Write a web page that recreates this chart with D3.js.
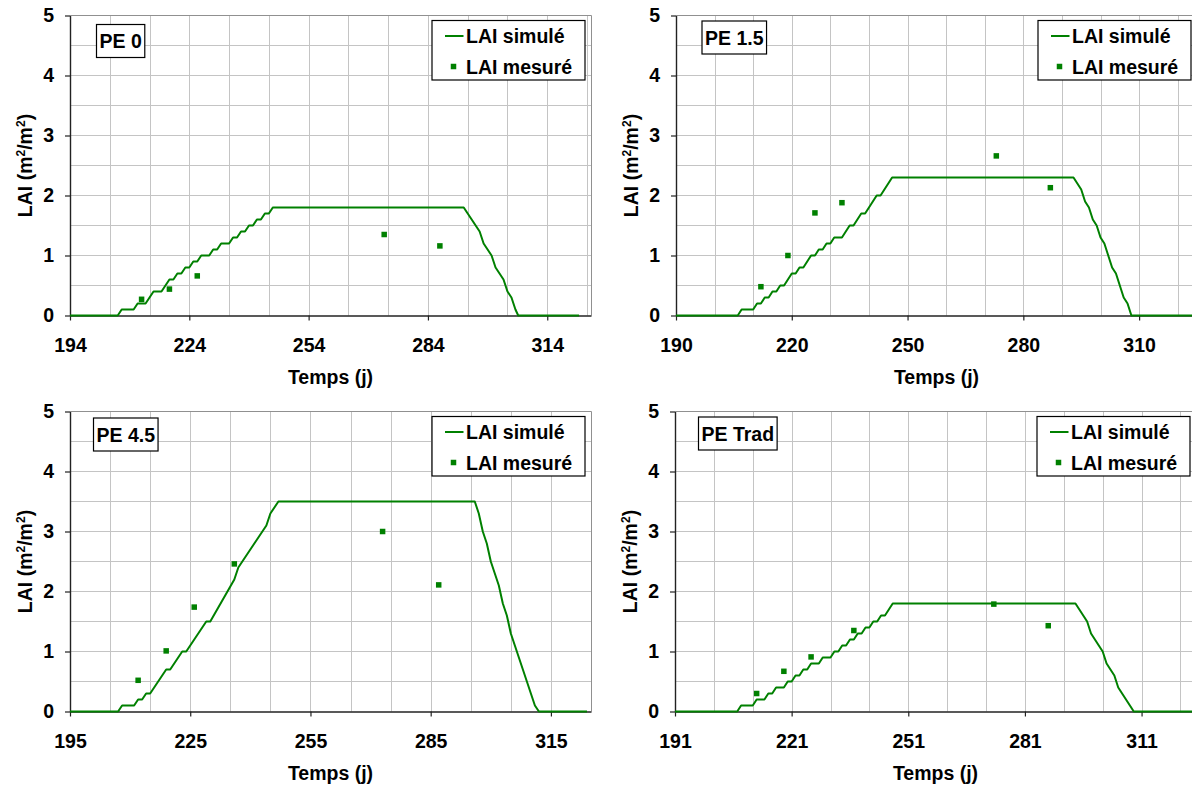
<!DOCTYPE html>
<html><head><meta charset="utf-8">
<script src="https://cdn.jsdelivr.net/npm/d3@7"></script>
<style>
html,body{margin:0;padding:0;background:#fff;}
svg{display:block;font-family:"Liberation Sans",Arial,sans-serif;font-weight:bold;}
</style></head><body>
<svg id="chart" width="1192" height="785"></svg>
<script>
// ---------- data ----------
const panelNames = ["PE 0", "PE 1.5", "PE 4.5", "PE Trad"];
const xMins = [194, 190, 195, 191];
const xMax = 325;
const xTicks1 = [194, 224, 254, 284, 314];
const xTicks2 = [190, 220, 250, 280, 310];
const xTicks3 = [195, 225, 255, 285, 315];
const xTicks4 = [191, 221, 251, 281, 311];
const yTicks = [0, 1, 2, 3, 4, 5];
const xTitle = "Temps (j)";
const legendSim = "LAI simulé";
const legendObs = "LAI mesuré";

const simDays1 = [194,206,207,210,211,213,215,217,219,220,221,222,223,224,225,226,227,229,230,231,232,234,235,236,237,238,239,240,241,242,243,244,245,293,294,295,296,297,298,299,300,301,302,303,304,305,306,306.7,322];
const simLai1  = [0,0,0.1,0.1,0.2,0.2,0.4,0.4,0.6,0.6,0.7,0.7,0.8,0.8,0.9,0.9,1.0,1.0,1.1,1.1,1.2,1.2,1.3,1.3,1.4,1.4,1.5,1.5,1.6,1.6,1.7,1.7,1.8,1.8,1.7,1.6,1.5,1.4,1.2,1.1,1.0,0.8,0.7,0.6,0.4,0.3,0.1,0,0];
const obsDays1 = [212, 219, 226, 273, 287];
const obsLai1  = [0.27, 0.44, 0.66, 1.35, 1.16];

const simDays2 = [190,206,207,210,211,212,213,214,215,216,217,218,220,221,222,223,225,226,227,228,229,230,231,233,235,236,238,239,242,243,246,293,294,295,296,297,298,299,300,301,302,303,304,305,306,307,308,324];
const simLai2  = [0,0,0.1,0.1,0.2,0.2,0.3,0.3,0.4,0.4,0.5,0.5,0.7,0.7,0.8,0.8,1.0,1.0,1.1,1.1,1.2,1.2,1.3,1.3,1.5,1.5,1.7,1.7,2.0,2.0,2.3,2.3,2.2,2.1,1.9,1.8,1.6,1.5,1.3,1.2,1.0,0.8,0.7,0.5,0.3,0.2,0,0];
const obsDays2 = [212, 219, 226, 233, 273, 287];
const obsLai2  = [0.48, 1.0, 1.71, 1.88, 2.66, 2.13];

const simDays3 = [195,207,208,211,212,213,214,215,219,220,223,224,229,230,236,237,244,245,247,296,297,298,299,300,301,302,303,304,305,306,307,308,309,310,311,312,324];
const simLai3  = [0,0,0.1,0.1,0.2,0.2,0.3,0.3,0.7,0.7,1.0,1.0,1.5,1.5,2.2,2.4,3.1,3.3,3.5,3.5,3.3,3.0,2.8,2.5,2.3,2.1,1.8,1.6,1.3,1.1,0.9,0.7,0.5,0.3,0.1,0,0];
const obsDays3 = [212, 219, 226, 236, 273, 287];
const obsLai3  = [0.52, 1.01, 1.74, 2.46, 3.0, 2.11];

const simDays4 = [191,207,208,211,212,214,215,216,217,219,220,221,222,223,224,225,226,228,229,231,232,233,234,235,236,237,238,239,240,241,242,243,244,245,247,294,295,296,297,298,299,300,301,302,303,304,305,306,307,308,309,325];
const simLai4  = [0,0,0.1,0.1,0.2,0.2,0.3,0.3,0.4,0.4,0.5,0.5,0.6,0.6,0.7,0.7,0.8,0.8,0.9,0.9,1.0,1.0,1.1,1.1,1.2,1.2,1.3,1.3,1.4,1.4,1.5,1.5,1.6,1.6,1.8,1.8,1.7,1.6,1.5,1.3,1.2,1.1,1.0,0.8,0.7,0.6,0.4,0.3,0.2,0.1,0,0];
const obsDays4 = [212, 219, 226, 237, 273, 287];
const obsLai4  = [0.30, 0.67, 0.91, 1.35, 1.79, 1.43];

// ---------- layout ----------
const xTicksAll = [xTicks1, xTicks2, xTicks3, xTicks4];
const simDaysAll = [simDays1, simDays2, simDays3, simDays4];
const simLaiAll = [simLai1, simLai2, simLai3, simLai4];
const obsDaysAll = [obsDays1, obsDays2, obsDays3, obsDays4];
const obsLaiAll = [obsLai1, obsLai2, obsLai3, obsLai4];

const lefts = [70, 676, 70, 675];
const tops = [15.5, 15.5, 411.5, 411.5];
const plotW = 521, plotH = 300;
const labelBoxDX = [26.5, 26, 23.5, 23.5];
const labelBoxDY = [9, 5.5, 6.5, 5.5];
const FS = 19.5;
const green = "#008000";

const svg = d3.select("#chart");

for (let i = 0; i < 4; i++) {
  const L = lefts[i], T = tops[i];
  const x = d3.scaleLinear().domain([xMins[i], xMax]).range([L, L + plotW]);
  const y = d3.scaleLinear().domain([0, 5]).range([T + plotH, T]);
  const g = svg.append("g");

  // gridlines
  const gxVals = d3.range(xMins[i] + 10, xMax, 10);
  g.append("g").selectAll("line").data(gxVals).join("line")
    .attr("x1", d => Math.round(x(d)) + 0.5).attr("x2", d => Math.round(x(d)) + 0.5)
    .attr("y1", T).attr("y2", T + plotH)
    .attr("stroke", "#c4c4c4").attr("stroke-width", 1);
  const gyVals = d3.range(0.5, 5.01, 0.5);
  g.append("g").selectAll("line").data(gyVals).join("line")
    .attr("x1", L).attr("x2", L + plotW)
    .attr("y1", d => y(d)).attr("y2", d => y(d))
    .attr("stroke", "#c4c4c4").attr("stroke-width", 1);

  // frame top/right
  g.append("path")
    .attr("d", `M${L},${T}H${L + plotW + 0.5}V${T + plotH}`)
    .attr("fill", "none").attr("stroke", "#909090").attr("stroke-width", 1);

  // axes
  const xa = g.append("g").attr("transform", `translate(0,${T + plotH})`)
    .call(d3.axisBottom(x).tickValues(xTicksAll[i]).tickSize(5).tickSizeOuter(0).tickPadding(18).tickFormat(d3.format("d")));
  const ya = g.append("g").attr("transform", `translate(${L},0)`)
    .call(d3.axisLeft(y).tickValues(yTicks).tickSize(5).tickSizeOuter(0).tickPadding(11).tickFormat(d3.format("d")));
  [xa, ya].forEach(a => {
    a.select(".domain").attr("stroke", "#222").attr("stroke-width", 1.4);
    a.selectAll(".tick line").attr("stroke", "#222").attr("stroke-width", 1.2);
    a.selectAll(".tick text").attr("fill", "#000")
      .style("font-family", '"Liberation Sans",Arial,sans-serif')
      .style("font-weight", "bold").style("font-size", FS + "px");
  });

  // axis titles
  g.append("text").attr("x", L + plotW / 2).attr("y", T + plotH + 68.5)
    .attr("text-anchor", "middle").style("font-size", FS + "px").text(xTitle);
  const yt = g.append("text")
    .attr("transform", `translate(${L - 45},${T + plotH / 2}) rotate(-90)`)
    .attr("text-anchor", "middle").attr("dy", "0.36em").style("font-size", FS + "px");
  yt.append("tspan").text("LAI (m");
  yt.append("tspan").attr("dy", -7).style("font-size", "12px").text("2");
  yt.append("tspan").attr("dy", 7).text("/m");
  yt.append("tspan").attr("dy", -7).style("font-size", "12px").text("2");
  yt.append("tspan").attr("dy", 7).text(")");

  // simulated line
  const simPts = simDaysAll[i].map((d, k) => [d, simLaiAll[i][k]]);
  g.append("path").datum(simPts)
    .attr("d", d3.line().x(d => x(d[0])).y(d => y(d[1])))
    .attr("fill", "none").attr("stroke", green).attr("stroke-width", 2)
    .attr("stroke-linejoin", "round");

  // measured points
  const obsPts = obsDaysAll[i].map((d, k) => [d, obsLaiAll[i][k]]);
  const ms = 5.5;
  g.append("g").selectAll("rect").data(obsPts).join("rect")
    .attr("x", d => x(d[0]) - ms / 2).attr("y", d => y(d[1]) - ms / 2)
    .attr("width", ms).attr("height", ms).attr("fill", green);

  // legend
  const lg = g.append("g");
  lg.append("rect").attr("x", L + 362).attr("y", T + 5).attr("width", 153).attr("height", 59.5)
    .attr("fill", "#fff").attr("stroke", "#000").attr("stroke-width", 1.2);
  lg.append("line").attr("x1", L + 375).attr("x2", L + 393.5)
    .attr("y1", T + 20.5).attr("y2", T + 20.5).attr("stroke", green).attr("stroke-width", 2);
  lg.append("text").attr("x", L + 396).attr("y", T + 20.5).attr("dy", "0.36em")
    .style("font-size", FS + "px").text(legendSim);
  lg.append("rect").attr("x", L + 383.5 - ms / 2).attr("y", T + 51 - ms / 2)
    .attr("width", ms).attr("height", ms).attr("fill", green);
  lg.append("text").attr("x", L + 396).attr("y", T + 51).attr("dy", "0.36em")
    .style("font-size", FS + "px").text(legendObs);

  // panel label box
  const bx = L + labelBoxDX[i], by = T + labelBoxDY[i];
  const lb = g.append("g");
  const rect = lb.append("rect");
  const t = lb.append("text").attr("y", by + 16.5).attr("dy", "0.36em")
    .style("font-size", FS + "px").text(panelNames[i]);
  const tw = t.node().getComputedTextLength();
  const bw = tw + 6;
  t.attr("x", bx + 3);
  rect.attr("x", bx).attr("y", by).attr("width", bw).attr("height", 33)
    .attr("fill", "#fff").attr("stroke", "#000").attr("stroke-width", 1.2);
}
</script>
</body></html>
